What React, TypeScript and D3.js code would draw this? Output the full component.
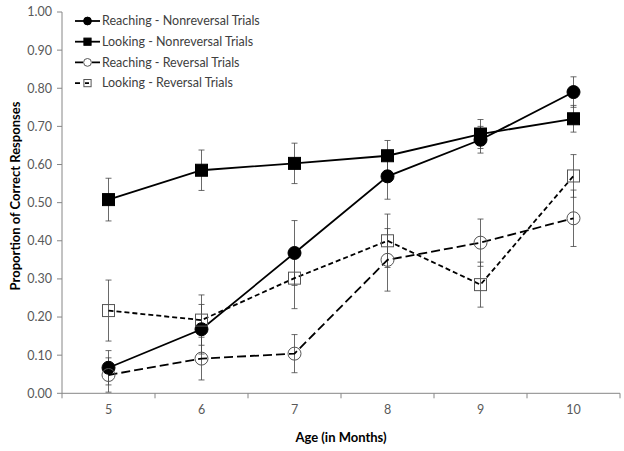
import React from "react";
import * as d3 from "d3";

const ages = ["5", "6", "7", "8", "9", "10"];
const yTicks = [0, 0.1, 0.2, 0.3, 0.4, 0.5, 0.6, 0.7, 0.8, 0.9, 1.0];

const reachNonrev = [0.067, 0.168, 0.368, 0.569, 0.665, 0.79];
const reachNonrevErr = [0.045, 0.065, 0.085, 0.06, 0.035, 0.04];
const lookNonrev = [0.508, 0.585, 0.603, 0.623, 0.68, 0.72];
const lookNonrevErr = [0.056, 0.053, 0.053, 0.04, 0.038, 0.035];
const reachRev = [0.048, 0.091, 0.104, 0.35, 0.395, 0.459];
const reachRevErr = [0.045, 0.056, 0.05, 0.082, 0.062, 0.074];
const lookRev = [0.217, 0.192, 0.302, 0.4, 0.285, 0.57];
const lookRevErr = [0.08, 0.066, 0.08, 0.07, 0.059, 0.056];

const seriesNames = [
  "Reaching - Nonreversal Trials",
  "Looking - Nonreversal Trials",
  "Reaching - Reversal Trials",
  "Looking - Reversal Trials",
];

type S = { name: string; values: number[]; err: number[]; shape: "circle" | "square"; filled: boolean; dash: string; legendDash: string };

const series: S[] = [
  { name: seriesNames[0], values: reachNonrev, err: reachNonrevErr, shape: "circle", filled: true, dash: "", legendDash: "" },
  { name: seriesNames[1], values: lookNonrev, err: lookNonrevErr, shape: "square", filled: true, dash: "", legendDash: "" },
  { name: seriesNames[2], values: reachRev, err: reachRevErr, shape: "circle", filled: false, dash: "9,4", legendDash: "8,9,8" },
  { name: seriesNames[3], values: lookRev, err: lookRevErr, shape: "square", filled: false, dash: "5,3", legendDash: "5,5,4,20" },
];

const W = 624, H = 451;
const left = 62, right = 620, top = 12, bottom = 393.3;
const font = "Lato, 'Open Sans', sans-serif";

function Marker({ s, x, y, scale = 1 }: { s: S; x: number; y: number; scale?: number }) {
  const fill = s.filled ? "#000" : "#fff";
  const stroke = s.filled ? "#000" : "#555";
  if (s.shape === "circle")
    return <circle cx={x} cy={y} r={6.5 * scale} fill={fill} fillOpacity={s.filled ? 1 : 0} stroke={stroke} strokeWidth={1} />;
  const sz = 12 * scale;
  return <rect x={x - sz / 2} y={y - sz / 2} width={sz} height={sz} fill={fill} fillOpacity={s.filled ? 1 : 0} stroke={stroke} strokeWidth={1} />;
}

export default function App() {
  const x = d3.scaleBand<string>().domain(ages).range([left, right]);
  const y = d3.scaleLinear().domain([0, 1]).range([bottom, top]);
  const cx = (a: string) => (x(a) as number) + x.bandwidth() / 2;
  const line = d3.line<number>().x((_, i) => cx(ages[i])).y((v) => y(v));
  const bandEdges = [...ages.map((a) => x(a) as number), right];

  return (
    <svg width={W} height={H} style={{ position: "absolute", left: 0, top: 0, background: "#fff" }} fontFamily={font}>
      {/* axes */}
      <line x1={left} x2={left} y1={top} y2={bottom} stroke="#868686" />
      <line x1={left} x2={right} y1={bottom} y2={bottom} stroke="#868686" />
      {yTicks.map((t) => (
        <g key={t}>
          <line x1={left - 5} x2={left} y1={y(t)} y2={y(t)} stroke="#868686" />
          <text x={left - 10} y={y(t)} dy="0.35em" textAnchor="end" fontSize={12.5} fill="#595959">
            {t.toFixed(2)}
          </text>
        </g>
      ))}
      {bandEdges.map((e, i) => (
        <line key={i} x1={e} x2={e} y1={bottom} y2={bottom + 5} stroke="#868686" />
      ))}
      {ages.map((a) => (
        <text key={a} x={cx(a)} y={bottom + 21} textAnchor="middle" fontSize={12.5} fill="#595959">
          {a}
        </text>
      ))}
      <text x={341} y={442} textAnchor="middle" fontSize={13} fontWeight="bold" fill="#000">
        Age (in Months)
      </text>
      <text transform={`translate(19.5,${196}) rotate(-90)`} textAnchor="middle" fontSize={13} fontWeight="bold" fill="#000">
        Proportion of Correct Responses
      </text>

      {/* error bars */}
      {series.map((s, si) =>
        s.values.map((v, i) => {
          const px = cx(ages[i]);
          const y1 = y(v + s.err[i]);
          const y2 = y(v - s.err[i]);
          return (
            <g key={`${si}-${i}`} stroke="#444" strokeWidth={0.8}>
              <line x1={px} x2={px} y1={y1} y2={y2} />
              <line x1={px - 3} x2={px + 3} y1={y1} y2={y1} />
              <line x1={px - 3} x2={px + 3} y1={y2} y2={y2} />
            </g>
          );
        })
      )}

      {/* lines */}
      {series.map((s, si) => (
        <path key={si} d={line(s.values) || ""} fill="none" stroke="#000" strokeWidth={1.8} strokeDasharray={s.dash || undefined} />
      ))}

      {/* markers */}
      {series.map((s, si) => s.values.map((v, i) => <Marker key={`${si}-${i}`} s={s} x={cx(ages[i])} y={y(v)} />))}

      {/* legend */}
      {series.map((s, i) => {
        const ly = 21 + i * 20.7;
        return (
          <g key={i}>
            <line x1={75} x2={100} y1={ly} y2={ly} stroke="#000" strokeWidth={1.8} strokeDasharray={s.legendDash || undefined} />
            <Marker s={s} x={87.5} y={ly} scale={0.6} />
            <text x={102} y={ly} dy="0.35em" fontSize={12.5} fill="#404040">
              {s.name}
            </text>
          </g>
        );
      })}
    </svg>
  );
}
